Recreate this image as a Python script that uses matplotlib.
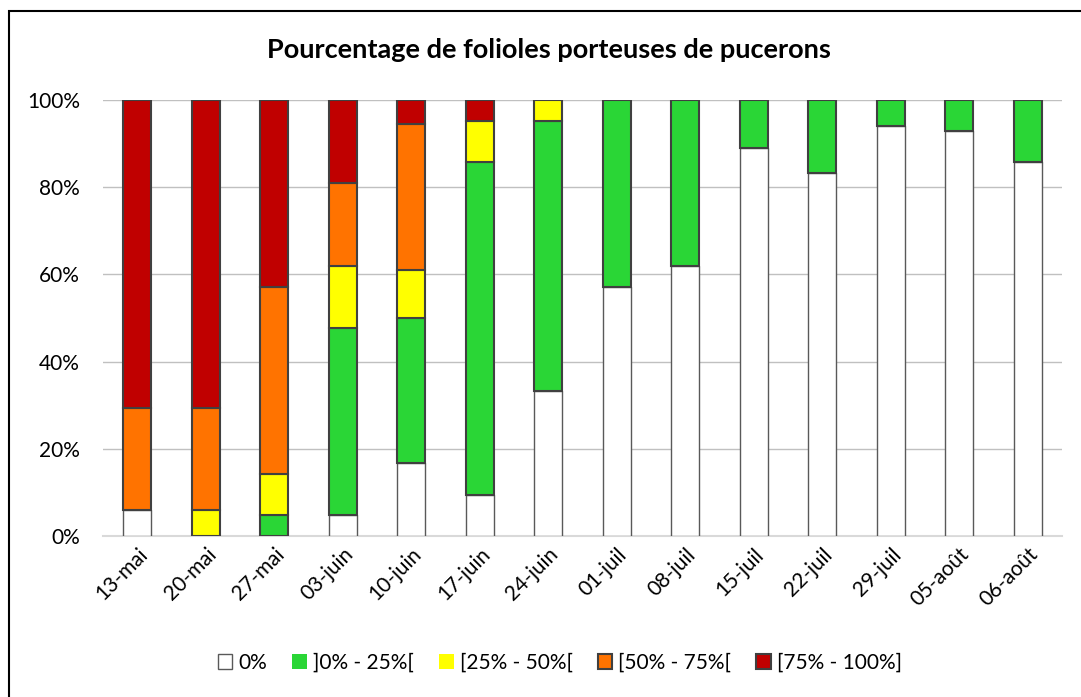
import matplotlib
matplotlib.use("Agg")
import matplotlib.pyplot as plt
from matplotlib.patches import Rectangle
import numpy as np

plt.rcParams['font.family'] = ['Lato', 'DejaVu Sans']

dates = ["13-mai", "20-mai", "27-mai", "03-juin", "10-juin", "17-juin", "24-juin",
         "01-juil", "08-juil", "15-juil", "22-juil", "29-juil", "05-août", "06-août"]
series_names = ["0%", "]0% - 25%[", "[25% - 50%[", "[50% - 75%[", "[75% - 100%]"]
s0 = [5.9, 0, 0, 4.8, 16.7, 9.5, 33.3, 57.1, 61.9, 88.9, 83.3, 94.1, 92.9, 85.7]
s1 = [0, 0, 4.8, 42.9, 33.3, 76.2, 61.9, 42.9, 38.1, 11.1, 16.7, 5.9, 7.1, 14.3]
s2 = [0, 5.9, 9.5, 14.3, 11.1, 9.5, 4.8, 0, 0, 0, 0, 0, 0, 0]
s3 = [23.5, 23.5, 42.9, 19.0, 33.3, 0, 0, 0, 0, 0, 0, 0, 0, 0]
s4 = [70.6, 70.6, 42.9, 19.0, 5.6, 4.8, 0, 0, 0, 0, 0, 0, 0, 0]
colors = ["#FFFFFF", "#2AD636", "#FFFF00", "#FF7300", "#C00000"]
edges = ["#595959", "#404040", "#404040", "#404040", "#404040"]

W, H = 1081, 697
fig = plt.figure(figsize=(W / 100, H / 100), dpi=100)
ax = fig.add_axes([103 / W, 1 - 536 / H, (1062 - 103) / W, (536 - 100) / H])

x = np.arange(len(dates))
bottom = np.zeros(len(dates))
handles = []
for vals, c, ec, name in zip([s0, s1, s2, s3, s4], colors, edges, series_names):
    v = np.array(vals, dtype=float)
    lw = np.where(v > 0, 1.5 if c != "#FFFFFF" else 1.0, 0.0)
    bars = ax.bar(x, v, 0.41, bottom=bottom, color=c, edgecolor=ec, linewidth=lw,
                  label=name, zorder=3)
    bottom += v
    handles.append(bars)

ax.set_ylim(0, 100)
ax.set_xlim(-0.5, len(dates) - 0.5)
ax.set_yticks([0, 20, 40, 60, 80, 100])
ax.set_yticklabels(["0%", "20%", "40%", "60%", "80%", "100%"], fontsize=15)
ax.yaxis.grid(True, color="#C0C0C0", linewidth=1, zorder=0)
ax.set_axisbelow(True)
for s in ["top", "right", "left"]:
    ax.spines[s].set_visible(False)
ax.spines["bottom"].set_color("#D9D9D9")
ax.spines["bottom"].set_linewidth(1.5)
ax.tick_params(axis="y", length=0, pad=16.5)
ax.tick_params(axis="x", length=0, pad=6)
ax.set_xticks(x)
ax.set_xticklabels(dates, rotation=45, ha="right", rotation_mode="anchor", fontsize=15)

fig.text(549 / W, 1 - 50 / H, "Pourcentage de folioles porteuses de pucerons",
         ha="center", va="center", fontsize=19.5, fontweight="bold")

fig.legend(handles=handles, labels=series_names, loc="center", ncol=5,
           bbox_to_anchor=(560 / W, 1 - 663 / H), frameon=False, fontsize=15,
           handlelength=0.7, handleheight=0.7, handletextpad=0.3, columnspacing=1.2)

# outer chart frame
fig.add_artist(Rectangle((9 / W, -0.1), 1.2, 1 - 11 / H + 0.1, transform=fig.transFigure,
                         fill=False, edgecolor="black", linewidth=1.5))

fig.savefig("out.png", dpi=100)
